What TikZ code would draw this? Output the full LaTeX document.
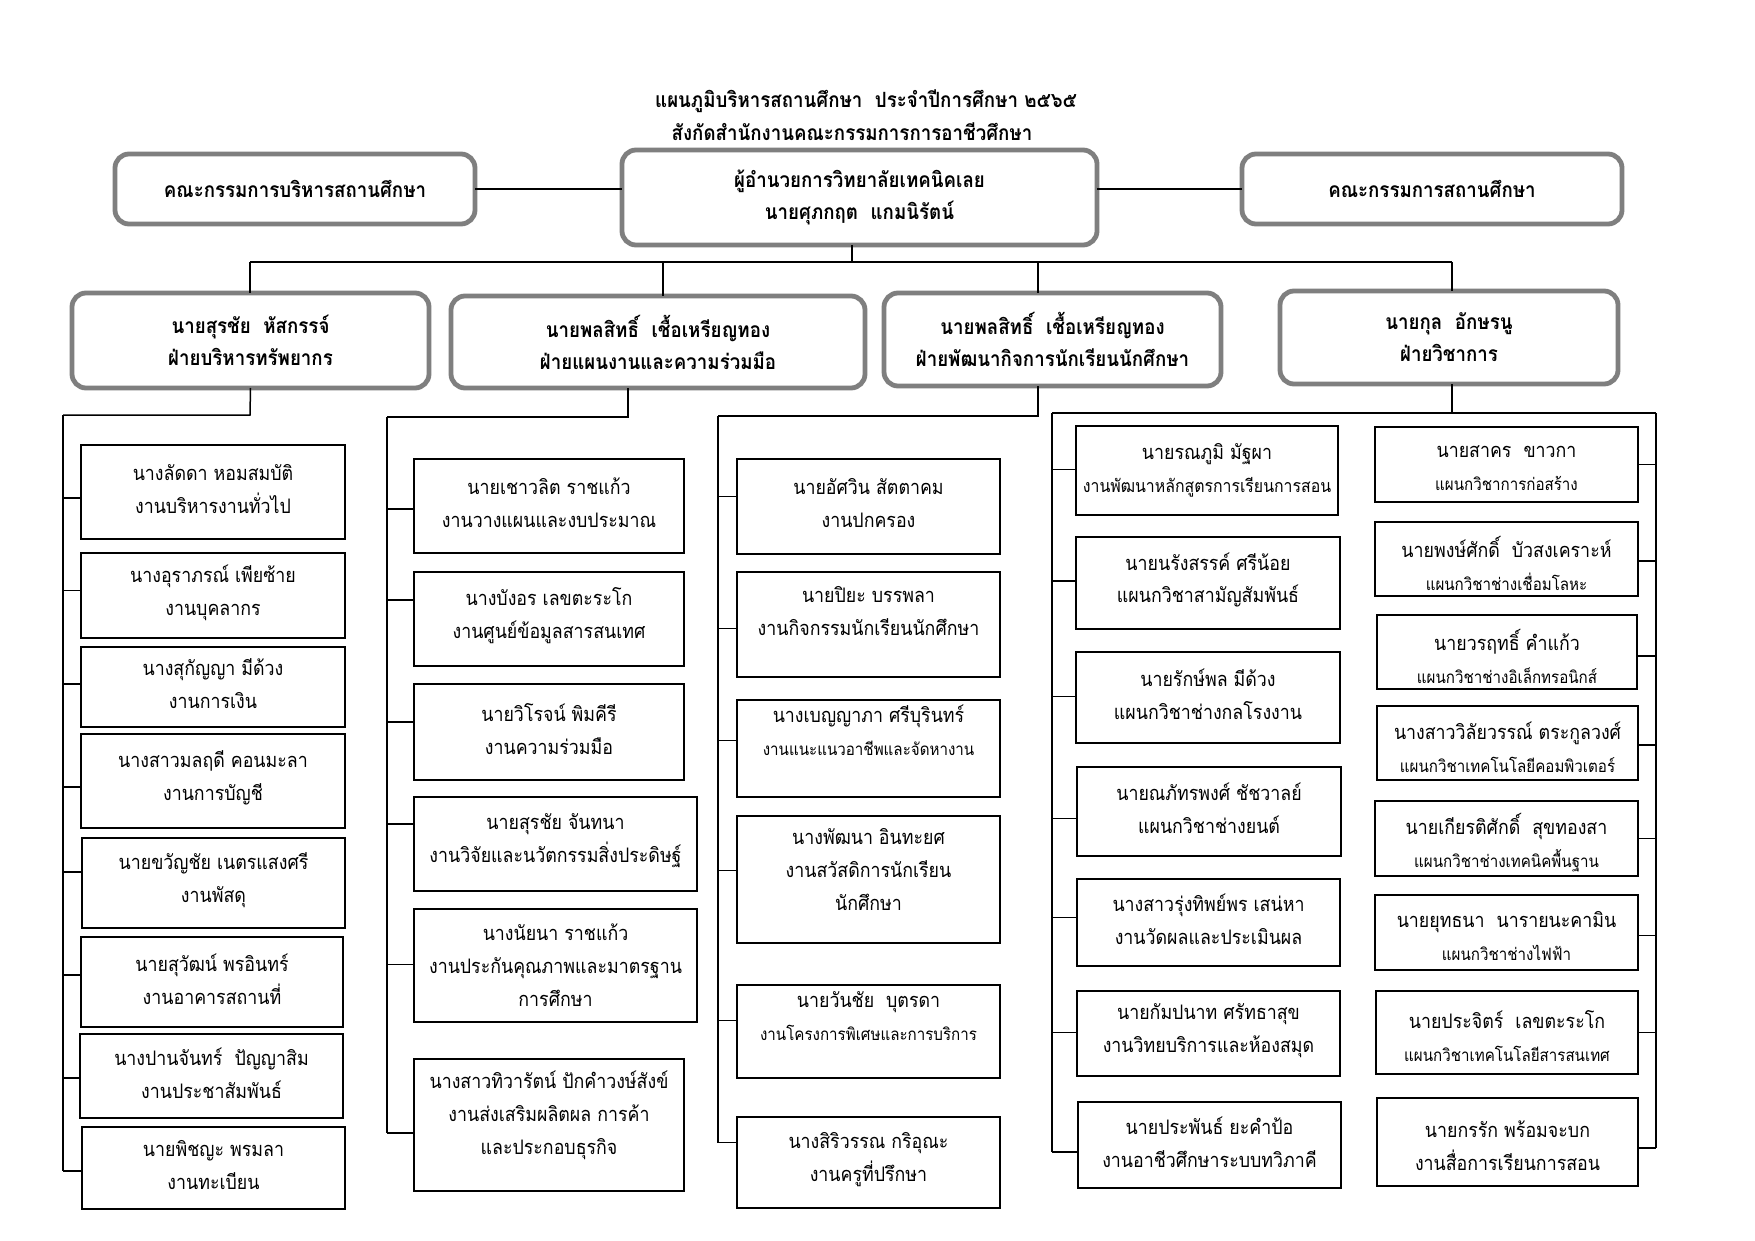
\documentclass[tikz,border=0pt]{standalone}
\usepackage{fontspec}
\setmainfont[Script=Thai,FakeStretch=0.89]{Loma}
\usetikzlibrary{calc}
\definecolor{gboxc}{HTML}{7F7F7F}
\newcommand\mybox[8][-3]{\node[#2, minimum width={(#6-#4)*0.5pt}, minimum height={(#7-#5)*0.5pt}] (#3) at ({(#4+#6)/2},{(#5+#7)/2}) {};
  \node[#2, draw=none, fill=none] (#3t) at ($(#3.center)+(0,#1)$) {#8};}
\newcommand\brW[3]{\path ($(#2.west)+(0,#3)$) coordinate (tmpb); \draw[conn] (tmpb) -- (#1 |- tmpb);}
\newcommand\brE[3]{\path ($(#2.east)+(0,#3)$) coordinate (tmpb); \draw[conn] (tmpb) -- (#1 |- tmpb);}
\begin{document}
\begin{tikzpicture}[x=0.5pt,y=-0.5pt,
  every node/.style={inner sep=0pt, outer sep=0pt},
  gbox/.style={draw=gboxc, line width=2.4pt, rounded corners=7pt, fill=white, align=center, font=\bfseries\fontsize{10.5}{16}\selectfont},
  wbox/.style={draw=black, line width=0.8pt, fill=white, align=center, font=\fontsize{10}{16.5}\selectfont},
  conn/.style={draw=black, line width=0.75pt},
  ttl/.style={font=\bfseries\fontsize{10.5}{14}\selectfont}]
\fill[white] (0,0) rectangle (1755,1241);
\useasboundingbox (0,0) rectangle (1755,1241);
\newcommand\sm[1]{{\fontsize{8.5}{14}\selectfont #1}}
% titles
\node[ttl] (T1) at (866,101) {แผนภูมิบริหารสถานศึกษา~ ประจำปีการศึกษา ๒๕๖๕};
\node[ttl] (T2) at (852,132) {สังกัดสำนักงานคณะกรรมการการอาชีวศึกษา};
% top boxes
\mybox[0]{gbox}{L}{115}{154}{475}{224}{คณะกรรมการบริหารสถานศึกษา}
\mybox[0]{gbox}{C}{622}{150}{1097}{245}{ผู้อำนวยการวิทยาลัยเทคนิคเลย\\นายศุภกฤต~ แกมนิรัตน์}
\mybox[0]{gbox}{R}{1242}{154}{1622}{224}{คณะกรรมการสถานศึกษา}
\draw[conn] (L.east) -- (L.east -| C.west);
\draw[conn] (R.west) -- (R.west -| C.east);
% level 2
\mybox[0]{gbox}{B1}{72}{293}{429}{388}{นายสุรชัย~ หัสกรรจ์\\ฝ่ายบริหารทรัพยากร}
\mybox[0]{gbox}{B2}{451}{296}{865}{388}{นายพลสิทธิ์~ เชื้อเหรียญทอง\\ฝ่ายแผนงานและความร่วมมือ}
\mybox[0]{gbox}{B3}{884}{293}{1221}{386}{นายพลสิทธิ์~ เชื้อเหรียญทอง\\ฝ่ายพัฒนากิจการนักเรียนนักศึกษา}
\mybox[0]{gbox}{B4}{1280}{291}{1618}{384}{นายกุล~ อักษรนู\\ฝ่ายวิชาการ}
\coordinate (t0) at (852,262);
\coordinate (t1) at (250,262);
\coordinate (t2) at (663,262);
\coordinate (t3) at (1038,262);
\coordinate (t4) at (1452,262);
\draw[conn] (t0 |- C.south) -- (t0);
\draw[conn] (t1) -- (t4);
\draw[conn] (t1) -- (t1 |- B1.north);
\draw[conn] (t2) -- (t2 |- B2.north);
\draw[conn] (t3) -- (t3 |- B3.north);
\draw[conn] (t4) -- (t4 |- B4.north);
% column 1
\mybox{wbox}{c11}{81}{445}{345}{539}{นางลัดดา หอมสมบัติ\\งานบริหารงานทั่วไป}
\mybox{wbox}{c12}{81}{553}{345}{638}{นางอุราภรณ์ เพียซ้าย\\งานบุคลากร}
\mybox{wbox}{c13}{81}{647}{345}{727}{นางสุกัญญา มีด้วง\\งานการเงิน}
\mybox{wbox}{c14}{81}{734}{345}{828}{นางสาวมลฤดี คอนมะลา\\งานการบัญชี}
\mybox{wbox}{c15}{82}{838}{345}{928}{นายขวัญชัย เนตรแสงศรี\\งานพัสดุ}
\mybox{wbox}{c16}{81}{937}{343}{1027}{นายสุวัฒน์ พรอินทร์\\งานอาคารสถานที่}
\mybox{wbox}{c17}{80}{1034}{343}{1118}{นางปานจันทร์~ ปัญญาสิม\\งานประชาสัมพันธ์}
\mybox{wbox}{c18}{82}{1127}{345}{1209}{นายพิชญะ พรมลา\\งานทะเบียน}
\coordinate (d1) at (250,415);
\coordinate (s1) at (63,415);
\draw[conn] (B1.south) -- (d1) -- (s1);
\brW{s1}{c11}{6}\brW{s1}{c12}{-5}\brW{s1}{c13}{-3}\brW{s1}{c14}{6}
\brW{s1}{c15}{-11}\brW{s1}{c16}{-7}\brW{s1}{c17}{2}\brW{s1}{c18}{3}
\draw[conn] (s1) -- (s1 |- tmpb);
% column 2
\mybox{wbox}{c21}{414}{459}{684}{553}{นายเชาวลิต ราชแก้ว\\งานวางแผนและงบประมาณ}
\mybox{wbox}{c22}{414}{572}{684}{666}{นางบังอร เลขตะระโก\\งานศูนย์ข้อมูลสารสนเทศ}
\mybox{wbox}{c23}{414}{684}{684}{780}{นายวิโรจน์ พิมคีรี\\งานความร่วมมือ}
\mybox{wbox}{c24}{414}{797}{697}{891}{นายสุรชัย จันทนา\\งานวิจัยและนวัตกรรมสิ่งประดิษฐ์}
\mybox[0]{wbox}{c25}{414}{909}{697}{1022}{นางนัยนา ราชแก้ว\\งานประกันคุณภาพและมาตรฐาน\\การศึกษา}
\mybox[-10]{wbox}{c26}{414}{1059}{684}{1191}{นางสาวทิวารัตน์ ปักคำวงษ์สังข์\\งานส่งเสริมผลิตผล การค้า\\และประกอบธุรกิจ}
\coordinate (d2) at (628,417);
\coordinate (s2) at (387,417);
\draw[conn] (d2 |- B2.south) -- (d2) -- (s2);
\brW{s2}{c21}{3}\brW{s2}{c22}{-19}\brW{s2}{c23}{-10}\brW{s2}{c24}{-20}
\brW{s2}{c25}{-1}\brW{s2}{c26}{8}
\draw[conn] (s2) -- (s2 |- tmpb);
% column 3
\mybox{wbox}{c31}{737}{459}{1000}{554}{นายอัศวิน สัตตาคม\\งานปกครอง}
\mybox[-13]{wbox}{c32}{737}{572}{1000}{677}{นายปิยะ บรรพลา\\งานกิจกรรมนักเรียนนักศึกษา}
\mybox[-18]{wbox}{c33}{737}{700}{1000}{797}{นางเบญญาภา ศรีบุรินทร์\\\sm{งานแนะแนวอาชีพและจัดหางาน}}
\mybox[-10]{wbox}{c34}{737}{816}{1000}{943}{นางพัฒนา อินทะยศ\\งานสวัสดิการนักเรียน\\นักศึกษา}
\mybox[-15]{wbox}{c35}{737}{985}{1000}{1078}{นายวันชัย~ บุตรดา\\\sm{งานโครงการพิเศษและการบริการ}}
\mybox{wbox}{c36}{737}{1117}{1000}{1208}{นางสิริวรรณ กริอุณะ\\งานครูที่ปรึกษา}
\coordinate (d3) at (1038,416);
\coordinate (s3) at (718,416);
\draw[conn] (d3 |- B3.south) -- (d3) -- (s3);
\brW{s3}{c31}{-10}\brW{s3}{c32}{4}\brW{s3}{c33}{-8}\brW{s3}{c34}{-9}
\brW{s3}{c35}{-11}\brW{s3}{c36}{-20}
\draw[conn] (s3) -- (s3 |- tmpb);
% column 4a
\mybox[0]{wbox}{a1}{1076}{426}{1338}{515}{นายรณภูมิ มัฐผา\\{\fontsize{8.9}{14}\selectfont งานพัฒนาหลักสูตรการเรียนการสอน}}
\mybox{wbox}{a2}{1076}{537}{1340}{629}{นายนรังสรรค์ ศรีน้อย\\แผนกวิชาสามัญสัมพันธ์}
\mybox{wbox}{a3}{1076}{652}{1340}{743}{นายรักษ์พล มีด้วง\\แผนกวิชาช่างกลโรงงาน}
\mybox{wbox}{a4}{1077}{767}{1341}{856}{นายณภัทรพงศ์ ชัชวาลย์\\แผนกวิชาช่างยนต์}
\mybox{wbox}{a5}{1077}{879}{1340}{966}{นางสาวรุ่งทิพย์พร เสน่หา\\งานวัดผลและประเมินผล}
\mybox{wbox}{a6}{1077}{991}{1340}{1076}{นายกัมปนาท ศรัทธาสุข\\งานวิทยบริการและห้องสมุด}
\mybox{wbox}{a7}{1078}{1102}{1341}{1188}{นายประพันธ์ ยะคำป้อ\\งานอาชีวศึกษาระบบทวิภาคี}
% column 4b
\mybox[4]{wbox}{b1}{1375}{427}{1638}{502}{นายสาคร~ ขาวกา\\\sm{แผนกวิชาการก่อสร้าง}}
\mybox[4]{wbox}{b2}{1375}{522}{1638}{596}{นายพงษ์ศักดิ์~ บัวสงเคราะห์\\\sm{แผนกวิชาช่างเชื่อมโลหะ}}
\mybox[4]{wbox}{b3}{1377}{615}{1637}{689}{นายวรฤทธิ์ คำแก้ว\\\sm{แผนกวิชาช่างอิเล็กทรอนิกส์}}
\mybox[4]{wbox}{b4}{1377}{706}{1638}{780}{นางสาววิลัยวรรณ์ ตระกูลวงศ์\\\sm{แผนกวิชาเทคโนโลยีคอมพิวเตอร์}}
\mybox[4]{wbox}{b5}{1375}{801}{1638}{876}{นายเกียรติศักดิ์~ สุขทองสา\\\sm{แผนกวิชาช่างเทคนิคพื้นฐาน}}
\mybox[4]{wbox}{b6}{1375}{895}{1638}{970}{นายยุทธนา~ นารายนะคามิน\\\sm{แผนกวิชาช่างไฟฟ้า}}
\mybox[4]{wbox}{b7}{1376}{991}{1638}{1074}{นายประจิตร์~ เลขตะระโก\\\sm{แผนกวิชาเทคโนโลยีสารสนเทศ}}
\mybox[4]{wbox}{b8}{1377}{1098}{1638}{1186}{นายกรรัก พร้อมจะบก\\งานสื่อการเรียนการสอน}
\coordinate (d4) at (1452,413);
\coordinate (s4) at (1052,413);
\coordinate (s5) at (1656,413);
\draw[conn] (d4 |- B4.south) -- (d4);
\draw[conn] (s4) -- (s5);
\brW{s4}{a1}{-1}\brW{s4}{a2}{-2}\brW{s4}{a3}{-1}\brW{s4}{a4}{7}
\brW{s4}{a5}{-5}\brW{s4}{a6}{-1}\brW{s4}{a7}{7}
\draw[conn] (s4) -- (s4 |- tmpb);
\brE{s5}{b1}{0}\brE{s5}{b2}{2}\brE{s5}{b3}{4}\brE{s5}{b4}{2}
\brE{s5}{b5}{0}\brE{s5}{b6}{3}\brE{s5}{b7}{0}\brE{s5}{b8}{6}
\draw[conn] (s5) -- (s5 |- tmpb);
\end{tikzpicture}
\end{document}
